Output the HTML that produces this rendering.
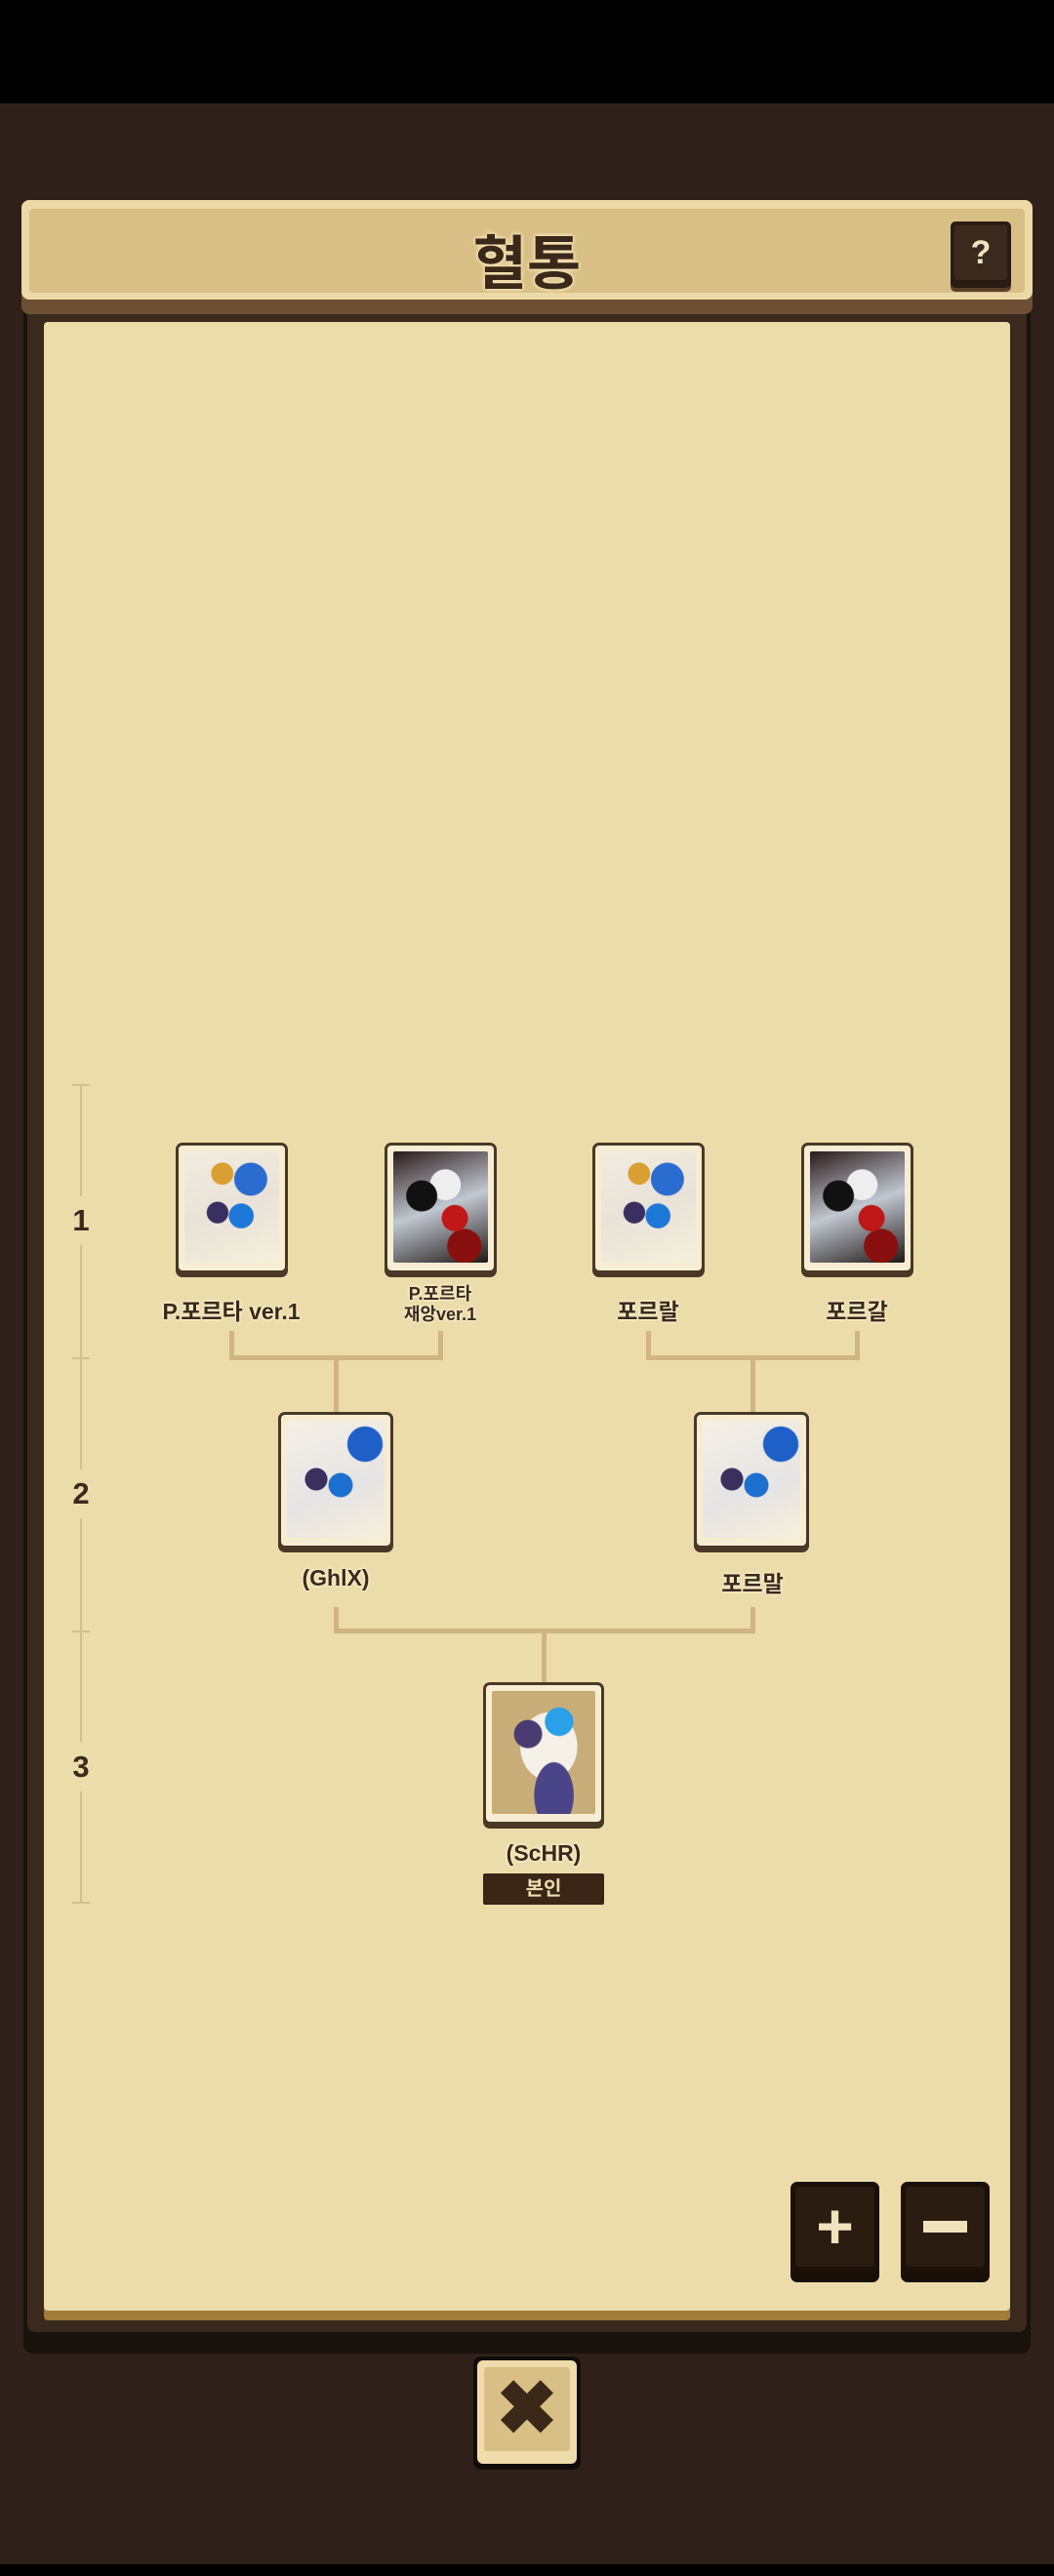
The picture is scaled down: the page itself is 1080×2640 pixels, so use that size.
<!DOCTYPE html>
<html><head><meta charset="utf-8"><style>
*{margin:0;padding:0;box-sizing:border-box}
body{width:1080px;height:2640px;background:#2f2119;position:relative;overflow:hidden;font-family:"Liberation Sans","Noto Sans CJK KR",sans-serif}
.abs{position:absolute}
.card{position:absolute;background:#f6edd2;border:3px solid #4a3826;border-radius:7px;box-shadow:0 4px 0 #4a3826;padding:6px 6px 8px 6px}
.card .in{width:100%;height:100%;background:#c9ad78;border-radius:2px;overflow:hidden;position:relative}
.lbl{position:absolute;text-align:center;font-weight:bold;color:#3a2a1c;font-size:23px;transform:translateX(-50%);white-space:nowrap;text-shadow:0 0 3px #fff4d6,0 0 3px #fff4d6}
.ln{position:absolute;background:#cfb583}
.num{position:absolute;left:70px;width:26px;text-align:center;font-size:31px;font-weight:bold;color:#3a2a1c}
.card .in.art-b{background:
 radial-gradient(circle at 35% 55%,#3a3060 0 12%,transparent 13%),
 radial-gradient(circle at 60% 58%,#1e78d8 0 14%,transparent 15%),
 radial-gradient(circle at 70% 25%,#2a6cd0 0 15%,transparent 16%),
 radial-gradient(circle at 40% 20%,#d8a030 0 10%,transparent 11%),
 linear-gradient(160deg,#f2ece0 0%,#e8e2d8 50%,#f5efdc 100%)}
.card .in.art-r{background:
 radial-gradient(circle at 65% 60%,#c01818 0 14%,transparent 15%),
 radial-gradient(circle at 30% 40%,#111 0 16%,transparent 17%),
 radial-gradient(circle at 55% 30%,#eeeeee 0 16%,transparent 17%),
 radial-gradient(circle at 75% 85%,#8a1010 0 14%,transparent 15%),
 linear-gradient(160deg,#2a1a1a 0%,#c0c8d0 50%,#201818 100%)}
.card .in.art-w{background:
 radial-gradient(circle at 30% 50%,#3a3060 0 12%,transparent 13%),
 radial-gradient(circle at 55% 55%,#1e70d0 0 14%,transparent 15%),
 radial-gradient(circle at 80% 20%,#1e60c8 0 14%,transparent 15%),
 linear-gradient(160deg,#f4f0e6 0%,#e6e4e4 60%,#f5efdc 100%)}
.card .in.art-s{background:
 radial-gradient(circle at 35% 35%,#4a3c70 0 13%,transparent 14%),
 radial-gradient(circle at 65% 25%,#2aa0e8 0 12%,transparent 13%),
 radial-gradient(ellipse at 60% 85%,#4a4488 0 22%,transparent 23%),
 radial-gradient(ellipse at 55% 45%,#f5f1e8 0 35%,transparent 36%),
 #c9ad78}
</style></head><body>
<div class="abs" style="left:0;top:0;width:1080px;height:106px;background:#000"></div>
<div class="abs" style="left:0;top:2628px;width:1080px;height:12px;background:#000"></div>

<div class="abs" style="left:24px;top:300px;width:1032px;height:2112px;background:#1a120c;border-radius:10px"></div>
<div class="abs" style="left:28px;top:300px;width:1024px;height:2090px;background:#3a2a1e;border-radius:8px"></div>
<div class="abs" style="left:45px;top:330px;width:990px;height:2048px;background:#a07c3a;border-radius:4px"></div>
<div class="abs" style="left:45px;top:330px;width:990px;height:2038px;background:#ebdcaa;border-radius:4px"></div>

<div class="abs" style="left:22px;top:205px;width:1036px;height:117px;background:#6d4f33;border-radius:8px"></div>
<div class="abs" style="left:22px;top:205px;width:1036px;height:102px;background:#ecd9a8;border-radius:8px"></div>
<div class="abs" style="left:30px;top:214px;width:1020px;height:86px;background:#d8bf85;border-radius:4px"></div>
<div class="abs" style="left:0;top:222px;width:1080px;text-align:center;font-size:60px;font-weight:bold;color:#3a2818;text-shadow:0 0 4px #f4e2b4,0 0 4px #f4e2b4,0 0 4px #f4e2b4">혈통</div>
<div class="abs" style="left:974px;top:227px;width:62px;height:68px;background:#2a1c12;border-radius:5px;box-shadow:0 4px 0 #5a3e28"></div>
<div class="abs" style="left:978px;top:231px;width:54px;height:56px;background:#3a2a1e;border-radius:3px;color:#f0e2c0;font-weight:bold;font-size:34px;text-align:center;line-height:56px">?</div>

<div class="ln" style="left:82px;top:1112px;width:2px;height:838px;background:#d6bf90"></div>
<div class="ln" style="left:74px;top:1111px;width:18px;height:2px;background:#d6bf90"></div>
<div class="ln" style="left:74px;top:1391px;width:18px;height:2px;background:#d6bf90"></div>
<div class="ln" style="left:74px;top:1671px;width:18px;height:2px;background:#d6bf90"></div>
<div class="ln" style="left:74px;top:1949px;width:18px;height:2px;background:#d6bf90"></div>
<div class="abs" style="left:70px;top:1226px;width:26px;height:50px;background:#ebdcaa"></div>
<div class="abs" style="left:70px;top:1506px;width:26px;height:50px;background:#ebdcaa"></div>
<div class="abs" style="left:70px;top:1786px;width:26px;height:50px;background:#ebdcaa"></div>
<div class="num" style="top:1233px">1</div>
<div class="num" style="top:1513px">2</div>
<div class="num" style="top:1793px">3</div>

<div class="ln" style="left:235px;top:1364px;width:5px;height:30px"></div>
<div class="ln" style="left:449px;top:1364px;width:5px;height:30px"></div>
<div class="ln" style="left:235px;top:1389px;width:219px;height:5px"></div>
<div class="ln" style="left:342px;top:1389px;width:5px;height:58px"></div>
<div class="ln" style="left:662px;top:1364px;width:5px;height:30px"></div>
<div class="ln" style="left:876px;top:1364px;width:5px;height:30px"></div>
<div class="ln" style="left:662px;top:1389px;width:219px;height:5px"></div>
<div class="ln" style="left:769px;top:1389px;width:5px;height:58px"></div>
<div class="ln" style="left:342px;top:1647px;width:5px;height:27px"></div>
<div class="ln" style="left:769px;top:1647px;width:5px;height:27px"></div>
<div class="ln" style="left:342px;top:1669px;width:432px;height:5px"></div>
<div class="ln" style="left:555px;top:1669px;width:5px;height:55px"></div>

<div class="card" style="left:180px;top:1171px;width:115px;height:134px"><div class="in art-b"></div></div>
<div class="card" style="left:394px;top:1171px;width:115px;height:134px"><div class="in art-r"></div></div>
<div class="card" style="left:607px;top:1171px;width:115px;height:134px"><div class="in art-b"></div></div>
<div class="card" style="left:821px;top:1171px;width:115px;height:134px"><div class="in art-r"></div></div>
<div class="lbl" style="left:237px;top:1325px">P.포르타 ver.1</div>
<div class="lbl" style="left:451px;top:1316px;font-size:18px;line-height:21px">P.포르타<br>재앙ver.1</div>
<div class="lbl" style="left:664px;top:1325px">포르랄</div>
<div class="lbl" style="left:878px;top:1325px">포르갈</div>

<div class="card" style="left:285px;top:1447px;width:118px;height:140px"><div class="in art-w"></div></div>
<div class="card" style="left:711px;top:1447px;width:118px;height:140px"><div class="in art-w"></div></div>
<div class="lbl" style="left:344px;top:1604px">(GhlX)</div>
<div class="lbl" style="left:771px;top:1604px">포르말</div>

<div class="card" style="left:495px;top:1724px;width:124px;height:146px"><div class="in art-s"></div></div>
<div class="lbl" style="left:557px;top:1886px">(ScHR)</div>
<div class="abs" style="left:495px;top:1920px;width:124px;height:32px;background:#3a2616;border-radius:2px;color:#efdcb0;font-weight:bold;font-size:20px;text-align:center;line-height:32px">본인</div>

<div class="abs" style="left:810px;top:2236px;width:91px;height:103px;background:#1a1008;border-radius:7px"></div>
<div class="abs" style="left:815px;top:2241px;width:81px;height:82px;background:#2a1c10;border-radius:4px;color:#f0e2bc;font-weight:bold;font-size:66px;text-align:center;line-height:80px">+</div>
<div class="abs" style="left:923px;top:2236px;width:91px;height:103px;background:#1a1008;border-radius:7px"></div>
<div class="abs" style="left:928px;top:2241px;width:81px;height:82px;background:#2a1c10;border-radius:4px"></div>
<div class="abs" style="left:946px;top:2276px;width:45px;height:12px;background:#f0e2bc"></div>

<div class="abs" style="left:485px;top:2415px;width:110px;height:116px;background:#120c08;border-radius:8px"></div>
<div class="abs" style="left:489px;top:2419px;width:102px;height:106px;background:#f0dcaa;border-radius:6px"></div>
<div class="abs" style="left:496px;top:2426px;width:88px;height:86px;background:#d8bf85;border-radius:3px;color:#3a2818;font-weight:bold;font-size:76px;text-align:center;line-height:86px">✖</div>
</body></html>
